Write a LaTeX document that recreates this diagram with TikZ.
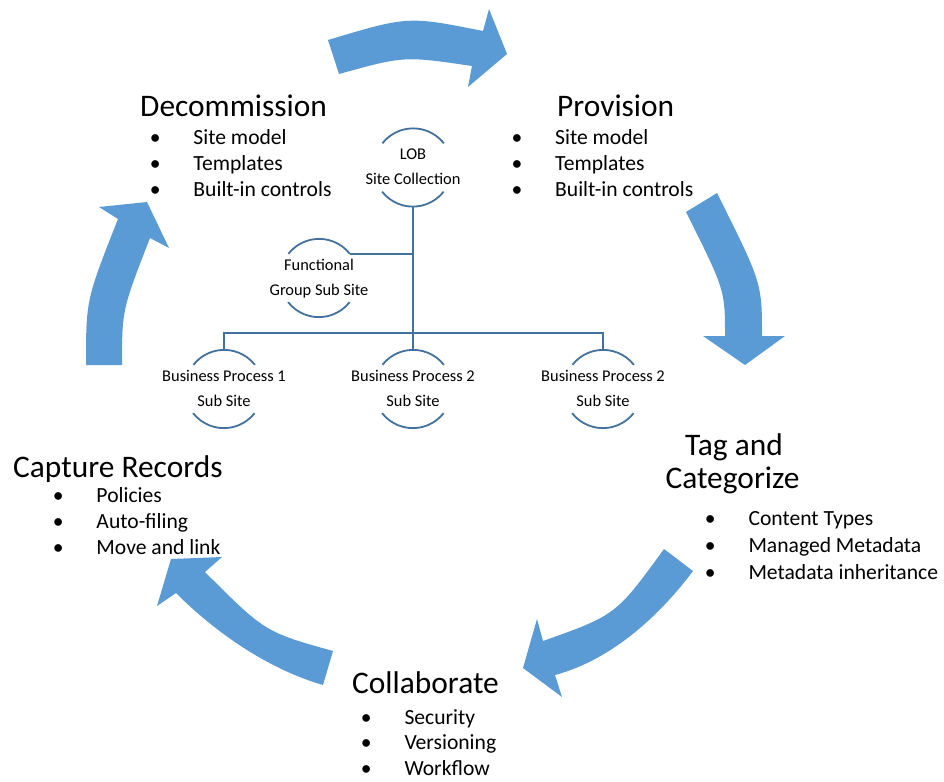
\documentclass[tikz,border=0pt]{standalone}
\usepackage{fontspec}
\setmainfont{Carlito}
\definecolor{arrowblue}{RGB}{91,155,213}
\definecolor{treeblue}{RGB}{65,113,156}
\newcommand\mybul{\makebox[0pt]{\textbullet}\hspace*{38.3pt}}
\begin{document}
\begin{tikzpicture}[x=1pt,y=-1pt,
  bigarrow/.style={fill=arrowblue, draw=none},
  heading/.style={inner sep=0pt, font=\fontsize{31.4}{37}\selectfont, anchor=base west},
  headc/.style={inner sep=0pt, font=\fontsize{31.4}{37}\selectfont, anchor=base},
  bul/.style={inner sep=0pt, font=\fontsize{21.6}{26}\selectfont, anchor=base west},
  tnode/.style={circle, minimum size=78pt, inner sep=0pt},
  ttext/.style={inner sep=0pt, font=\fontsize{16.4}{20}\selectfont, anchor=base},
  tline/.style={draw=treeblue, line width=1.5pt},
  tarc/.style={draw=treeblue, line width=1.8pt}]
\useasboundingbox (0,0) rectangle (944,781);

% cycle arrows
\fill[bigarrow] (328,40) .. controls (408,16) .. (483,31) -- (489,9) -- (507,54) -- (468,87) -- (472,66) .. controls (404,56) .. (339,74) -- cycle;
\fill[bigarrow] (717,193) .. controls (762,283) .. (762,336) -- (785,336) -- (745,365) -- (703,336) -- (725,336) .. controls (725,290) .. (686,212) -- cycle;
\fill[bigarrow] (664,549) .. controls (616,615) .. (543,641) -- (537,619) -- (523,668) -- (562,697) -- (555,675) .. controls (615,659) and (663,611) .. (693,571) -- cycle;
\fill[bigarrow] (333,651) .. controls (265,632) .. (205,572) -- (222,557) -- (171,559) -- (157,606) -- (176,593) .. controls (216,633) and (268,669) .. (323,685) -- cycle;
\fill[bigarrow] (86,365) .. controls (86,300) .. (118,219) -- (99,207) -- (147,202) -- (169,248) -- (150,238) .. controls (122,310) .. (122,365) -- cycle;

% headings and bullets
\node[heading] (decom) at (140,117) {Decommission};
\node[bul] (d1) at (155,144) {\mybul Site model};
\node[bul] (d2) at (155,170) {\mybul Templates};
\node[bul] (d3) at (155,196) {\mybul Built-in controls};

\node[heading] (prov) at (557,117) {Provision};
\node[bul] (p1) at (516.7,144) {\mybul Site model};
\node[bul] (p2) at (516.7,170) {\mybul Templates};
\node[bul] (p3) at (516.7,196) {\mybul Built-in controls};

\node[headc] (tag1) at (734,455) {Tag and};
\node[headc] (tag2) at (732.5,488) {Categorize};
\node[bul] (t1) at (710,525) {\mybul Content Types};
\node[bul] (t2) at (710,552) {\mybul Managed Metadata};
\node[bul] (t3) at (710,579) {\mybul Metadata inheritance};

\node[heading] (collab) at (352,693) {Collaborate};
\node[bul] (c1) at (366,724) {\mybul Security};
\node[bul] (c2) at (366,749.5) {\mybul Versioning};
\node[bul] (c3) at (366,775) {\mybul Workflow};

\node[heading] (capt) at (13,477) {Capture Records};
\node[bul] (r1) at (58,502) {\mybul Policies};
\node[bul] (r2) at (58,528) {\mybul Auto-filing};
\node[bul] (r3) at (58,554) {\mybul Move and link};

% hierarchy
\node[tnode] (lob) at (413,167.5) {};
\node[tnode] (func) at (319,278) {};
\node[tnode] (bpa) at (224,389) {};
\node[tnode] (bpb) at (413,389) {};
\node[tnode] (bpc) at (603,389) {};

\foreach \n in {lob,func,bpa,bpb,bpc}{
  \draw[tarc] (\n.38) arc[start angle=38,end angle=142,radius=39pt];
  \draw[tarc] (\n.218) arc[start angle=218,end angle=322,radius=39pt];
}

\node[ttext] (lobt1) at (413,159.5) {LOB};
\node[ttext] (lobt2) at (413,184.5) {Site Collection};
\node[ttext] (funct1) at (319,270) {Functional};
\node[ttext] (funct2) at (319,295) {Group Sub Site};
\node[ttext] (bpat1) at (224,381) {Business Process 1};
\node[ttext] (bpat2) at (224,406) {Sub Site};
\node[ttext] (bpbt1) at (413,381) {Business Process 2};
\node[ttext] (bpbt2) at (413,406) {Sub Site};
\node[ttext] (bpct1) at (603,381) {Business Process 2};
\node[ttext] (bpct2) at (603,406) {Sub Site};

\coordinate (bus) at (413,333);
\draw[tline] (lob.south) -- (bpb.north);
\draw[tline] (func.38) -- (func.38 -| lob.south);
\draw[tline] (bpa.north) |- (bus) -| (bpc.north);
\end{tikzpicture}
\end{document}
